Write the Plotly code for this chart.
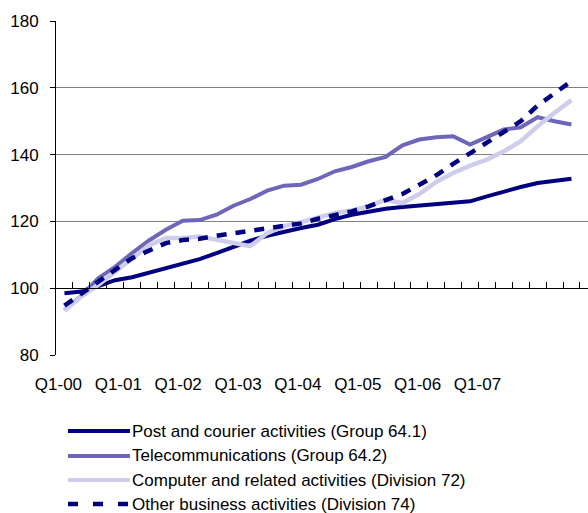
import plotly.graph_objects as go

# Quarterly index series, Q1-2000 .. Q3-2007
years = ["00", "01", "02", "03", "04", "05", "06", "07"]
quarters = [f"Q{q}-{y}" for y in years for q in (1, 2, 3, 4)][:31]

post = [98.5, 99.0, 100.6, 102.4, 103.3, 104.6, 105.9, 107.3, 108.7, 110.5,
        112.5, 114.2, 115.7, 117.0, 118.0, 119.0, 120.7, 122.0, 123.0, 123.8,
        124.3, 124.7, 125.0, 125.5, 126.0, 127.5, 129.0, 130.3, 131.5, 132.2,
        132.8]
telecom = [93.4, 97.7, 103.0, 106.4, 110.5, 114.3, 117.5, 120.2, 120.4, 122.0,
           124.7, 126.7, 129.2, 130.7, 131.0, 132.7, 135.0, 136.3, 138.0, 139.3,
           142.8, 144.5, 145.2, 145.5, 143.0, 145.3, 147.5, 148.2, 151.2, 150.0,
           149.0]
computer = [93.2, 97.5, 101.0, 104.8, 109.0, 112.8, 115.0, 115.0, 115.5, 114.6,
            113.5, 112.6, 116.5, 118.6, 119.8, 121.3, 122.5, 123.3, 124.5, 126.5,
            125.5, 128.2, 131.8, 134.5, 136.7, 138.5, 141.0, 144.0, 148.5, 152.5,
            156.3]
other = [94.8, 98.5, 102.0, 105.5, 109.0, 111.3, 113.5, 114.4, 114.8, 115.7,
         116.5, 117.0, 118.0, 118.7, 119.4, 120.8, 121.8, 123.0, 124.5, 126.3,
         128.2, 131.0, 133.8, 137.2, 140.4, 143.5, 146.8, 150.0, 154.7, 158.3,
         162.0]

year_labels = ["Q1-00", "Q1-01", "Q1-02", "Q1-03", "Q1-04", "Q1-05", "Q1-06", "Q1-07"]
y_ticks = [80, 100, 120, 140, 160, 180]

series_names = [
    "Post and courier activities (Group 64.1)",
    "Telecommunications (Group 64.2)",
    "Computer and related activities (Division 72)",
    "Other business activities (Division 74)",
]
series_values = [post, telecom, computer, other]
colors = ["#000080", "#6E66B8", "#CECEEC", "#000080"]
dashes = ["solid", "solid", "solid", "10px,9px"]
widths = [4, 4, 4.5, 4.5]

FONT = "Liberation Sans, Arial, sans-serif"
W, H = 588, 513
ML, MR, MT, MB = 56, 0, 21, 158
PW, PH = W - ML - MR, H - MT - MB

Y_MIN, Y_MAX, Y_CROSS = 80, 180, 100
cross_frac = (Y_CROSS - Y_MIN) / (Y_MAX - Y_MIN)

x = list(range(len(quarters)))
x_range = [-0.5, -0.5 + PW / 16.9]

fig = go.Figure()
for name, vals, col, dsh, wd in zip(series_names, series_values, colors, dashes, widths):
    fig.add_trace(go.Scatter(
        x=x, y=vals, name=name, mode="lines",
        line=dict(color=col, width=wd, dash=dsh),
        customdata=quarters, hovertemplate="%{customdata}: %{y}<extra>" + name + "</extra>",
        showlegend=False,
    ))

# helper subplot whose bottom edge sits at y = 100: carries the category axis line and ticks
fig.add_trace(go.Scatter(x=[0], y=[0], xaxis="x2", yaxis="y2", mode="markers",
                         marker=dict(opacity=0), showlegend=False, hoverinfo="skip"))

label_step = 3.542
label_pos = [-0.355 + label_step * i for i in range(len(year_labels))]

fig.update_layout(
    width=W, height=H,
    margin=dict(l=ML, r=MR, t=MT, b=MB),
    paper_bgcolor="white", plot_bgcolor="rgba(0,0,0,0)",
    font=dict(family=FONT, size=17, color="black"),
    xaxis=dict(
        range=x_range, showgrid=False, zeroline=False, showline=False,
        tickmode="array", tickvals=label_pos, ticktext=year_labels,
        ticks="", ticklabelstandoff=17,
        tickfont=dict(family=FONT, size=17, color="black"),
    ),
    xaxis2=dict(
        range=x_range, anchor="y2", domain=[0, 1],
        showline=True, linecolor="black", linewidth=1,
        ticks="inside", ticklen=6, tickcolor="black", tickwidth=1,
        tickmode="linear", tick0=-0.5, dtick=1,
        showticklabels=False, showgrid=False, zeroline=False,
    ),
    yaxis2=dict(
        domain=[cross_frac, 1], anchor="x2", range=[0, 1],
        visible=False,
    ),
    yaxis=dict(
        range=[Y_MIN, Y_MAX], tickmode="array", tickvals=y_ticks,
        showgrid=True, gridcolor="#808080", gridwidth=1,
        showline=True, linecolor="black", linewidth=1,
        ticks="outside", ticklen=5, tickcolor="black",
        zeroline=False, ticklabelstandoff=8,
        tickfont=dict(family=FONT, size=17, color="black"),
    ),
    showlegend=False,
)

# Legend drawn below the plot area
def px_x(px):
    return (px - ML) / PW

def px_y(py):
    return (MT + PH - py) / PH

row_y = [431, 456, 480, 504]
for name, col, dsh, wd, ry in zip(series_names, colors, dashes, widths, row_y):
    fig.add_shape(
        type="line", xref="paper", yref="paper",
        x0=px_x(68), x1=px_x(130), y0=px_y(ry), y1=px_y(ry),
        line=dict(color=col, width=4.5 if dsh != "solid" else 4,
                  dash="10px,15px" if dsh != "solid" else "solid"),
    )
    fig.add_annotation(
        xref="paper", yref="paper", x=px_x(130), y=px_y(ry),
        xanchor="left", yanchor="middle", showarrow=False,
        text=name, font=dict(family=FONT, size=17, color="black"),
    )

fig.write_html("out.html")
